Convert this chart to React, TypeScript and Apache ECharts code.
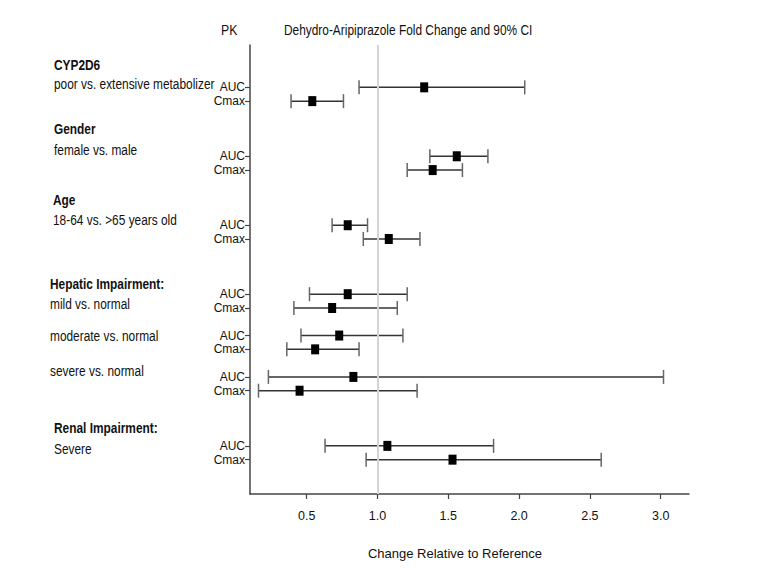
import React, { useEffect, useRef } from "react";
import * as echarts from "echarts";

const FONT = "'Liberation Sans', Arial, sans-serif";
const SQUEEZE = 0.82;

// Row layout slots (vertical order) and metric names
const rowSlots = [0, 1, 5, 6, 10, 11, 15, 16, 18, 19, 21, 22, 26, 27];
const rowMetrics = ["AUC", "Cmax", "AUC", "Cmax", "AUC", "Cmax", "AUC", "Cmax", "AUC", "Cmax", "AUC", "Cmax", "AUC", "Cmax"];
// Point estimates and 90% CI bounds (fold change)
const estimates = [1.33, 0.54, 1.56, 1.39, 0.79, 1.08, 0.79, 0.68, 0.73, 0.56, 0.83, 0.45, 1.07, 1.53];
const lowerCI = [0.87, 0.39, 1.37, 1.21, 0.68, 0.9, 0.52, 0.41, 0.46, 0.36, 0.23, 0.16, 0.63, 0.92];
const upperCI = [2.04, 0.76, 1.78, 1.6, 0.93, 1.3, 1.21, 1.14, 1.18, 0.87, 3.02, 1.28, 1.82, 2.58];

const xTicks = [0.5, 1.0, 1.5, 2.0, 2.5, 3.0];
const referenceValue = 1.0;

const groupHeaders = ["CYP2D6", "Gender", "Age", "Hepatic Impairment:", "Renal Impairment:"];
const subLabels = [
  "poor vs. extensive metabolizer",
  "female vs. male",
  "18-64 vs. >65 years old",
  "mild vs. normal",
  "moderate vs. normal",
  "severe vs. normal",
  "Severe",
];

const titleText = "Dehydro-Aripiprazole Fold Change and 90% CI";
const pkText = "PK";
const xAxisName = "Change Relative to Reference";

export default function App() {
  const ref = useRef<HTMLDivElement>(null);

  useEffect(() => {
    if (!ref.current) return;
    const chart = echarts.init(ref.current, null, { renderer: "svg" });

    const data = rowSlots.map((s, i) => [s, lowerCI[i], estimates[i], upperCI[i]]);

    const headerPos = [
      [54, 65],
      [54, 129],
      [53, 200],
      [50, 284],
      [54, 428],
    ];
    const subPos = [
      [54, 84],
      [54, 150],
      [53, 220],
      [50, 304],
      [50, 336],
      [50, 371],
      [54, 449],
    ];

    const mkText = (text: string, x: number, y: number, font: string) => ({
      type: "text",
      x,
      y,
      scaleX: SQUEEZE,
      style: { text, font, fill: "#111", textAlign: "left", textVerticalAlign: "middle" },
    });

    const graphics: any[] = [];
    groupHeaders.forEach((t, i) => {
      graphics.push(mkText(t, headerPos[i][0], headerPos[i][1], `bold 14.5px ${FONT}`));
    });
    subLabels.forEach((t, i) => {
      graphics.push(mkText(t, subPos[i][0], subPos[i][1], `14.5px ${FONT}`));
    });
    graphics.push(mkText(pkText, 221, 30, `15px ${FONT}`));
    graphics.push(mkText(titleText, 284, 30, `14.5px ${FONT}`));

    chart.setOption({
      animation: false,
      grid: { left: 250, right: 88, top: 45, bottom: 84, containLabel: false },
      xAxis: {
        type: "value",
        min: 0.1,
        max: 3.2,
        name: xAxisName,
        nameLocation: "middle",
        nameGap: 53,
        nameTextStyle: { fontFamily: FONT, fontSize: 13, color: "#111", padding: [0, 29, 0, 0] },
        axisLine: { show: true, onZero: false, lineStyle: { color: "#444", width: 1.5 } },
        axisTick: { show: true, length: 5, lineStyle: { color: "#444", width: 1.2 }, customValues: xTicks },
        axisLabel: {
          customValues: xTicks,
          formatter: (v: number) => v.toFixed(1),
          fontFamily: FONT,
          fontSize: 12.5,
          color: "#111",
          margin: 15,
          showMinLabel: true,
          showMaxLabel: true,
        },
        splitLine: { show: false },
      },
      yAxis: {
        type: "value",
        inverse: true,
        min: -3.07,
        max: 29.49,
        axisLine: { show: true, onZero: false, lineStyle: { color: "#444", width: 1.5 } },
        axisTick: { show: true, length: 5, lineStyle: { color: "#444", width: 1.2 }, customValues: rowSlots },
        axisLabel: {
          customValues: rowSlots,
          formatter: (v: number) => {
            const idx = rowSlots.indexOf(Math.round(v));
            return idx >= 0 ? rowMetrics[idx] : "";
          },
          fontFamily: FONT,
          fontSize: 12,
          lineHeight: 12,
          color: "#111",
          margin: 5,
          showMinLabel: true,
          showMaxLabel: true,
          hideOverlap: false,
        },
        splitLine: { show: false },
      },
      graphic: graphics,
      series: [
        {
          type: "line",
          data: [],
          z: 1,
          markLine: {
            silent: true,
            symbol: "none",
            label: { show: false },
            lineStyle: { color: "#d4d4d4", width: 2, type: "solid" },
            data: [{ xAxis: referenceValue }],
          },
        },
        {
          type: "custom",
          z: 3,
          data,
          encode: { x: [1, 2, 3], y: 0 },
          renderItem: (params: any, api: any) => {
            const slot = api.value(0);
            const lo = api.coord([api.value(1), slot]);
            const est = api.coord([api.value(2), slot]);
            const hi = api.coord([api.value(3), slot]);
            const capH = 7;
            return {
              type: "group",
              children: [
                {
                  type: "line",
                  shape: { x1: lo[0], y1: lo[1], x2: hi[0], y2: hi[1] },
                  style: { stroke: "#333", lineWidth: 1.5 },
                },
                {
                  type: "line",
                  shape: { x1: lo[0], y1: lo[1] - capH, x2: lo[0], y2: lo[1] + capH },
                  style: { stroke: "#666", lineWidth: 1.5 },
                },
                {
                  type: "line",
                  shape: { x1: hi[0], y1: hi[1] - capH, x2: hi[0], y2: hi[1] + capH },
                  style: { stroke: "#666", lineWidth: 1.5 },
                },
                {
                  type: "rect",
                  shape: { x: est[0] - 4, y: est[1] - 5, width: 8, height: 10 },
                  style: { fill: "#000" },
                },
              ],
            };
          },
        },
      ],
    });

    return () => chart.dispose();
  }, []);

  return <div ref={ref} style={{ width: 777, height: 578, position: "absolute", left: 0, top: 0 }} />;
}
